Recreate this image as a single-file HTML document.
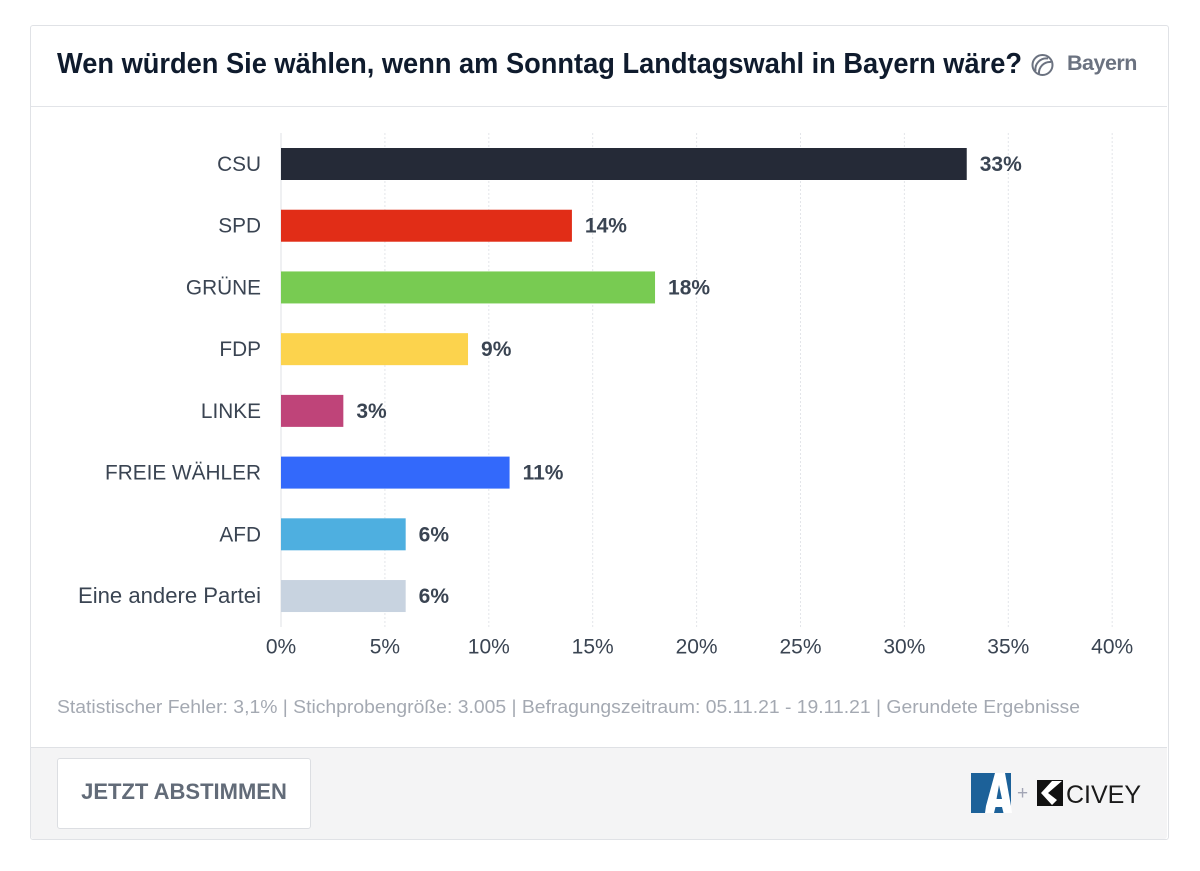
<!DOCTYPE html>
<html lang="de">
<head>
<meta charset="utf-8">
<title>Wen würden Sie wählen</title>
<style>
html,body{margin:0;padding:0;background:#fff;width:1200px;height:871px;overflow:hidden}
body{font-family:"Liberation Sans",sans-serif;position:relative}
#card{position:absolute;left:30px;top:25px;width:1137px;height:813px;border:1px solid #e0e2e6;border-radius:3px;box-sizing:content-box;background:#fff}
#hdr-line{position:absolute;left:31px;top:106px;width:1136px;height:1px;background:#e2e4e8}
#title{position:absolute;left:57px;top:46px;font-size:29px;line-height:36px;font-weight:bold;color:#0f1b2d;white-space:nowrap;transform-origin:0 0;letter-spacing:0}
#region{position:absolute;left:1067px;top:49px;font-size:21.5px;line-height:28px;font-weight:bold;color:#6b7280;white-space:nowrap;letter-spacing:-0.5px}
#region-icon{position:absolute;left:1029px;top:52px}
#chart{position:absolute;left:0;top:0}
#note{position:absolute;left:57px;top:695px;font-size:18.5px;line-height:24px;color:#a4a9b2;white-space:nowrap}
#footer{position:absolute;left:31px;top:747px;width:1136px;height:91px;background:#f4f4f5;border-top:1px solid #dfe1e5;border-radius:0 0 3px 3px}
#vote{position:absolute;left:57px;top:758px;width:254px;height:71px;background:#fff;border:1px solid #dcdee2;border-radius:3px;font-family:"Liberation Sans",sans-serif;font-size:22px;font-weight:bold;color:#626b78;padding:0 0 4px 0;line-height:26px;text-align:center}
#logos{position:absolute;left:960px;top:760px}
</style>
</head>
<body>
<div id="card"></div>
<div id="hdr-line"></div>
<div id="title">Wen würden Sie wählen, wenn am Sonntag Landtagswahl in Bayern wäre?</div>
<svg id="region-icon" width="26" height="26" viewBox="0 0 26 26">
<circle cx="13.5" cy="13" r="10" fill="none" stroke="#6b7280" stroke-width="2"/>
<circle cx="17" cy="16.5" r="7" fill="none" stroke="#6b7280" stroke-width="0"/>
<path d="M6.5 19 A11 11 0 0 1 19 6.5" fill="none" stroke="#6b7280" stroke-width="2"/>
<path d="M10 22 A11 11 0 0 1 22 10" fill="none" stroke="#6b7280" stroke-width="2"/>
</svg>
<div id="region">Bayern</div>
<svg id="chart" width="1200" height="680" viewBox="0 0 1200 680"></svg>
<div id="note">Statistischer Fehler: 3,1% | Stichprobengröße: 3.005 | Befragungszeitraum: 05.11.21 - 19.11.21 | Gerundete Ergebnisse</div>
<div id="footer"></div>
<button id="vote">JETZT ABSTIMMEN</button>
<svg id="logos" width="190" height="60" viewBox="0 0 190 60">
<g>
<rect x="11" y="13" width="40" height="40" fill="#1c6199"/>
<path d="M35 13 H45 L51 46 L52 53 H25 L26 46 Z" fill="#fff"/>
<path d="M39 25 L42 39 H36.5 Z" fill="#1c6199"/>
<path d="M34 53 L35.5 47 H42 L43.5 53 Z" fill="#1c6199"/>
</g>
<text x="57" y="39" font-size="19" fill="#a2a5b5" font-family="Liberation Sans">+</text>
<g>
<rect x="77" y="20" width="26" height="26" fill="#111"/>
<path d="M92 21 L102 21 L88 33 L97 40 L92 45 L81 33 Z" fill="#fff"/>
</g>
<text x="106" y="43" font-size="25" fill="#1a1a1a" font-family="Liberation Sans">CIVEY</text>
</svg>
<script>
const categories = ["CSU","SPD","GRÜNE","FDP","LINKE","FREIE WÄHLER","AFD","Eine andere Partei"];
const seriesValues = [33,14,18,9,3,11,6,6];
const barColors = ["#252a37","#e12d17","#78cb52","#fcd34d","#bf4479","#3369fb","#4eafe0","#c8d3e0"];
const tickValues = [0,5,10,15,20,25,30,35,40];
const tickLabels = ["0%","5%","10%","15%","20%","25%","30%","35%","40%"];
const svg = document.getElementById('chart');
const NS = 'http://www.w3.org/2000/svg';
function xScale(v){ return 281 + v * 20.78; }
function yCenter(i){ return 164 + i * 61.72; }
function mk(tag, attrs){
  const el = document.createElementNS(NS, tag);
  for (const k in attrs) el.setAttribute(k, attrs[k]);
  svg.appendChild(el);
  return el;
}
tickValues.forEach(function(t, i){
  const line = mk('line', {x1:xScale(t), x2:xScale(t), y1:133, y2:627, stroke:t===0?'#dfe1e5':'#e3e5e9', 'stroke-width':1, 'stroke-dasharray':t===0?'none':'2 2'});
  
  
  const label = mk('text', {x:xScale(t), y:653.5, 'text-anchor':'middle', 'font-size':21, fill:'#3a4452', 'font-family':'Liberation Sans'});
  label.textContent = tickLabels[i];
  
  
});
categories.forEach(function(c, i){
  const cy = yCenter(i);
  const isUpper = c === c.toUpperCase();
  const name = mk('text', {x:261, y:cy + 7, 'text-anchor':'end', 'font-size':isUpper ? 20.8 : 22.1, fill:'#3a4452', 'font-family':'Liberation Sans'});
  name.textContent = c;
  
  
  const bar = mk('rect', {x:xScale(0), y:cy - 16, width:xScale(seriesValues[i]) - xScale(0), height:32, fill:barColors[i]});
  
  
  const val = mk('text', {x:xScale(seriesValues[i]) + 13, y:cy + 7, 'font-size':21, 'font-weight':'bold', fill:'#3a4452', 'font-family':'Liberation Sans'});
  val.textContent = seriesValues[i] + '%';
  
  
});
const t = document.getElementById('title');
t.style.transform = 'scaleX(' + (965 / t.getBoundingClientRect().width) + ')';
const n = document.getElementById('note');
n.style.transformOrigin = '0 0';
n.style.transform = 'scaleX(' + (1023 / n.getBoundingClientRect().width) + ')';
</script>
</body>
</html>
